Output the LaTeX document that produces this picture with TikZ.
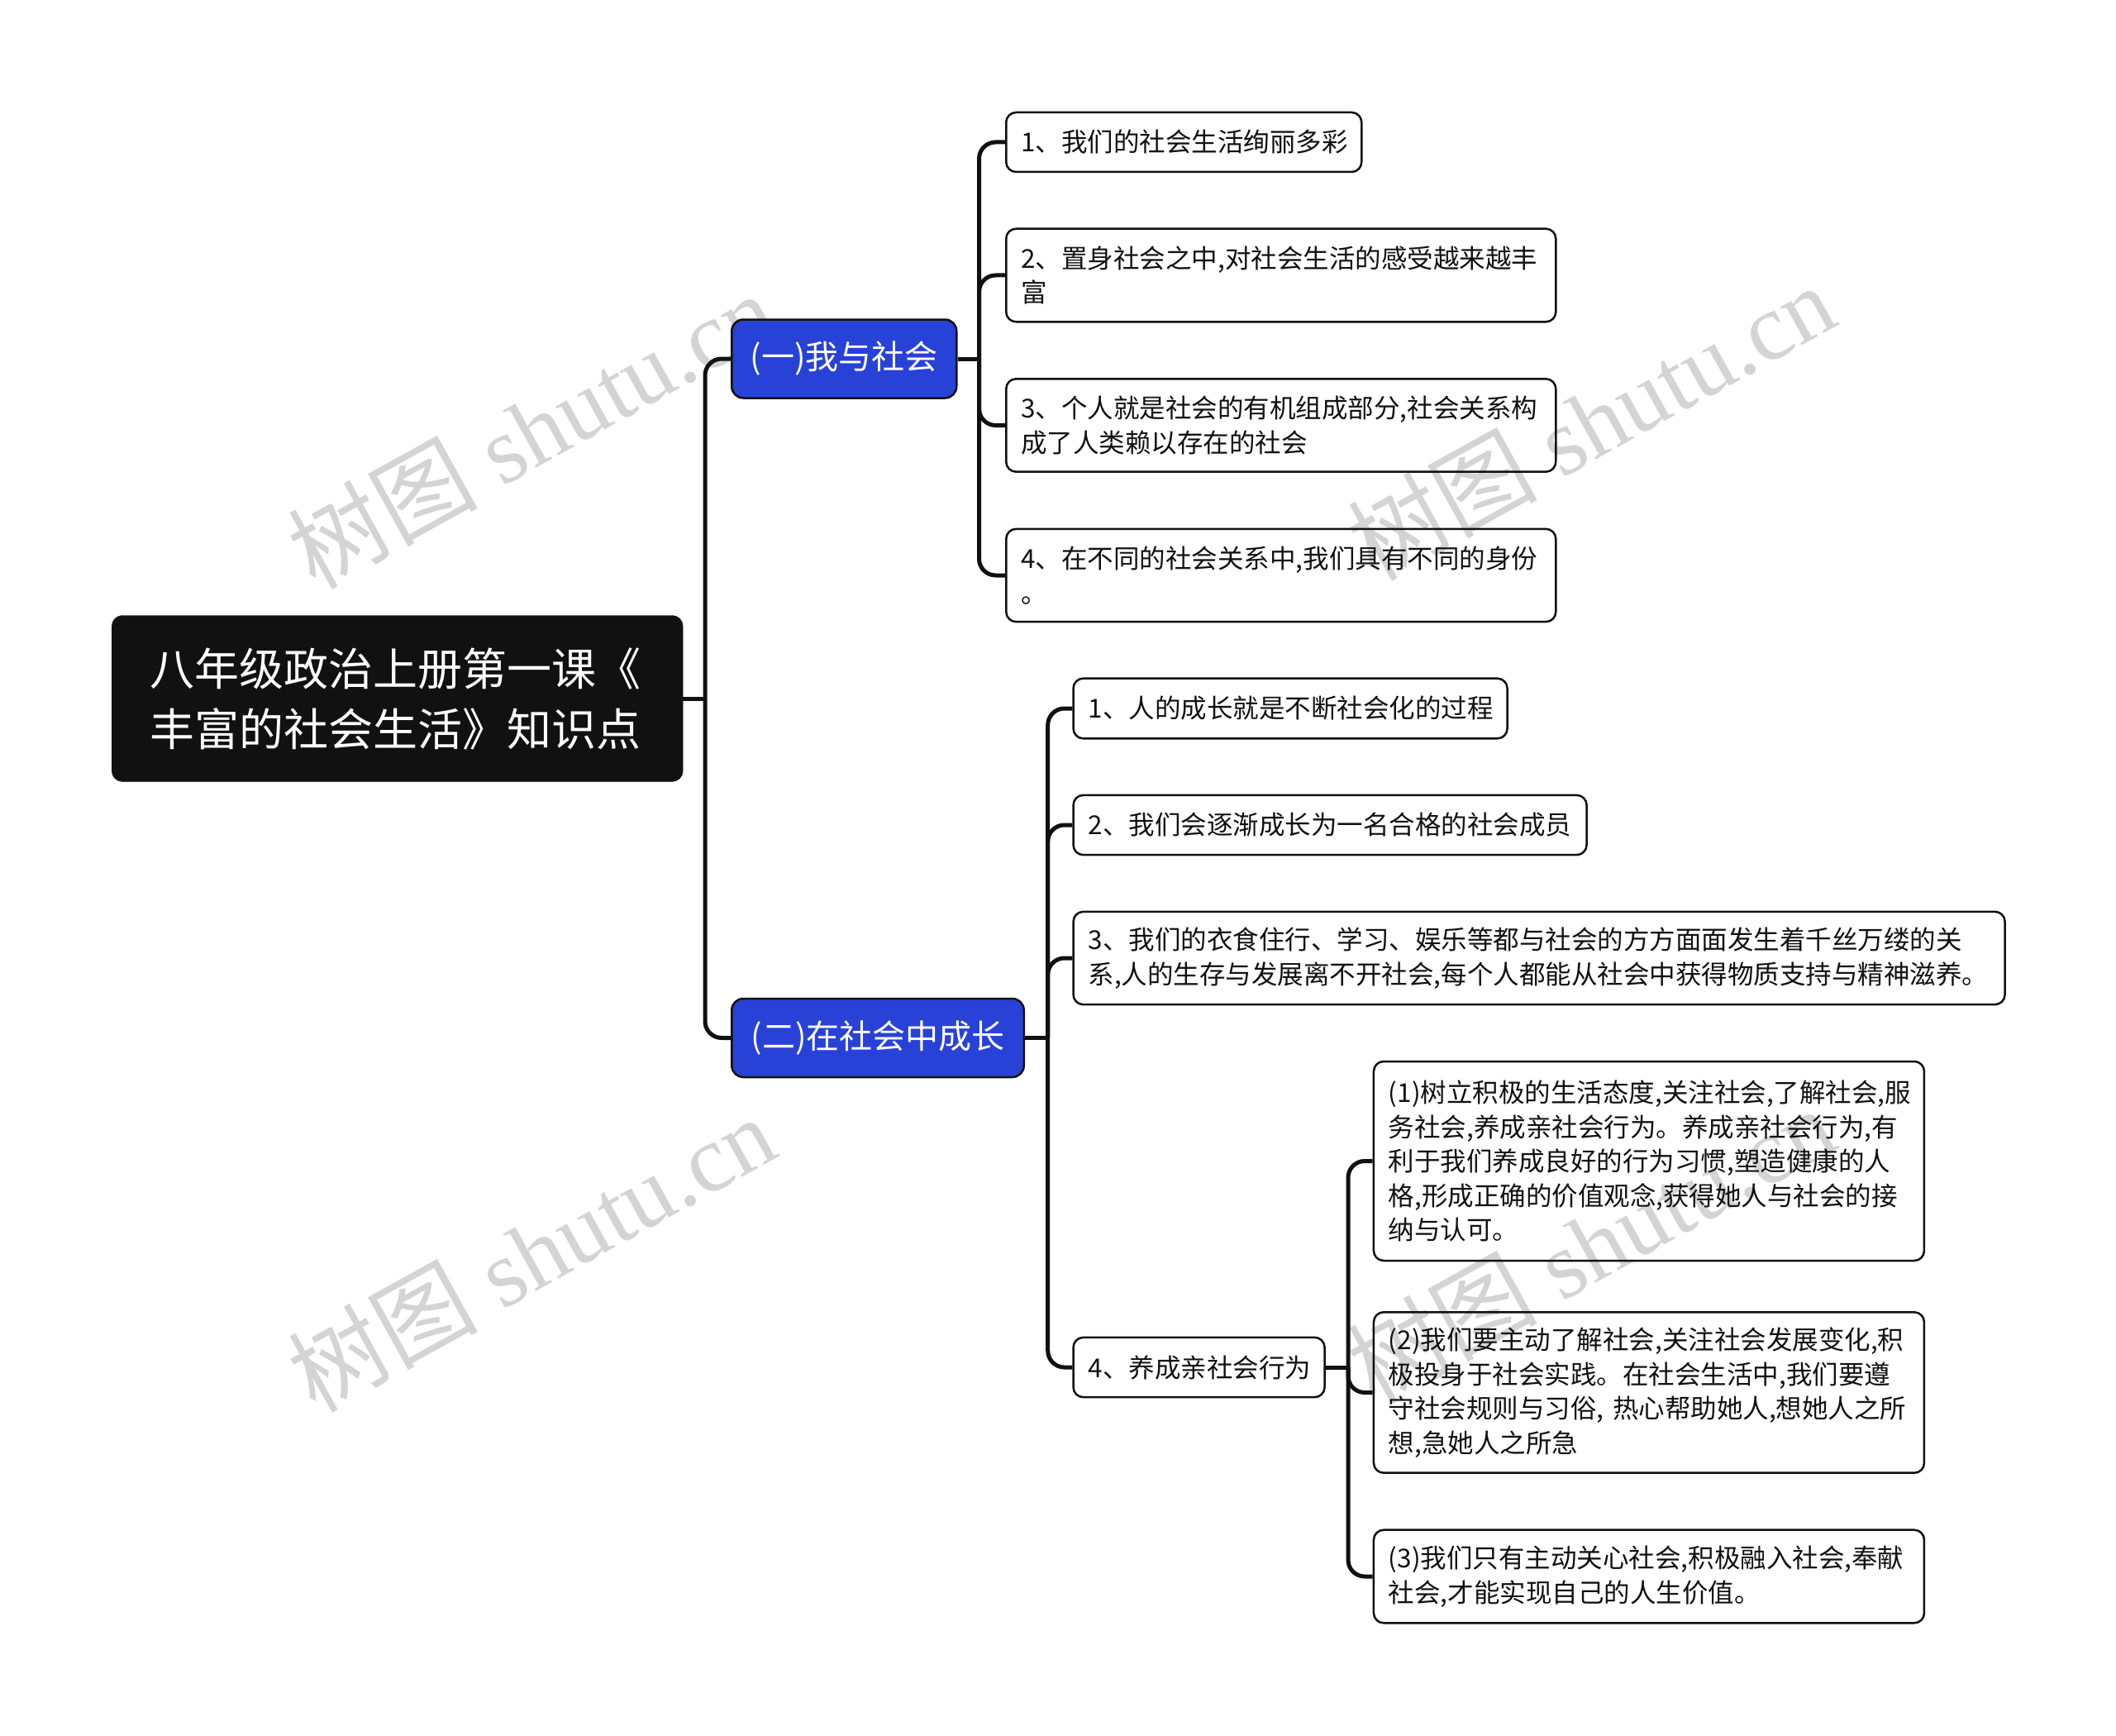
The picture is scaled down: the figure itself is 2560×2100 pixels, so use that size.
\documentclass[tikz,border=0pt]{standalone}
\usepackage{fontspec}
\newfontfamily\cjk{Noto Sans CJK SC}
\newfontfamily\wmserif{Liberation Serif}
\definecolor{bluenode}{RGB}{40,66,216}
\definecolor{ink}{RGB}{17,17,17}
\definecolor{wmgray}{RGB}{212,212,212}
\tikzset{
  conn/.style={draw=ink, line width=5pt, rounded corners=20pt},
  rootbox/.style={fill=ink, draw=ink, rounded corners=13pt, text=white, anchor=west,
    font=\cjk\fontsize{54}{73}\selectfont, align=left, inner xsep=46pt, inner ysep=0pt,
    text width=599pt, minimum height=201pt},
  topic/.style={fill=bluenode, draw=ink, line width=2.5pt, rounded corners=14pt, text=white,
    anchor=west, font=\cjk\fontsize{40}{48}\selectfont, inner sep=0pt, minimum height=95pt},
  itembox/.style={draw=ink, line width=2.5pt, rounded corners=12pt, text=ink, anchor=west,
    font=\cjk\fontsize{31.5}{41.5}\selectfont, align=left, inner xsep=18pt, inner ysep=0pt},
  wm/.style={text=wmgray, rotate=29, inner sep=0pt, font=\wmserif\fontsize{115}{120}\selectfont}
}
\begin{document}
\begin{tikzpicture}[x=1pt, y=-1pt]
\useasboundingbox (0,0) rectangle (2560,2100);
\fill[white] (0,0) rectangle (2560,2100);

% watermarks
\node[wm] (wm1) at (642,520)  {{\cjk 树图} shutu.cn};
\node[wm] (wm2) at (1924,510) {{\cjk 树图} shutu.cn};
\node[wm] (wm3) at (642,1516) {{\cjk 树图} shutu.cn};
\node[wm] (wm4) at (1924,1506) {{\cjk 树图} shutu.cn};

% root
\node[rootbox] (root) at (135,845) {八年级政治上册第一课《\\丰富的社会生活》知识点};

% topics
\node[topic, minimum width=272pt] (n1) at (884,434) {(一)我与社会};
\node[topic, minimum width=353.5pt] (n2) at (884,1255.5) {(二)在社会中成长};

% group 1
\node[itembox, text width=394pt, minimum height=72pt] (b11) at (1216,172) {1、我们的社会生活绚丽多彩};
\node[itembox, text width=629pt, minimum height=112.6pt] (b12) at (1216,333) {2、置身社会之中,对社会生活的感受越来越丰\\富};
\node[itembox, text width=629pt, minimum height=112.4pt] (b13) at (1216,514.5) {3、个人就是社会的有机组成部分,社会关系构\\成了人类赖以存在的社会};
\node[itembox, text width=629pt, minimum height=112.3pt] (b14) at (1216,696) {4、在不同的社会关系中,我们具有不同的身份\\。};

% group 2
\node[itembox, text width=489pt, minimum height=72.6pt] (b21) at (1297.3,857) {1、人的成长就是不断社会化的过程};
\node[itembox, text width=585pt, minimum height=72.3pt] (b22) at (1297.3,998) {2、我们会逐渐成长为一名合格的社会成员};
\node[itembox, text width=1091pt, minimum height=112.3pt] (b23) at (1297.3,1159) {3、我们的衣食住行、学习、娱乐等都与社会的方方面面发生着千丝万缕的关\\系,人的生存与发展离不开社会,每个人都能从社会中获得物质支持与精神滋养。};
\node[itembox, text width=268pt, minimum height=72.3pt] (b24) at (1297.3,1654) {4、养成亲社会行为};

% sub items
\node[itembox, text width=630pt, minimum height=241pt] (s1) at (1660.7,1404.5) {(1)树立积极的生活态度,关注社会,了解社会,服\\务社会,养成亲社会行为。养成亲社会行为,有\\利于我们养成良好的行为习惯,塑造健康的人\\格,形成正确的价值观念,获得她人与社会的接\\纳与认可。};
\node[itembox, text width=630pt, minimum height=194.4pt] (s2) at (1660.7,1684.5) {(2)我们要主动了解社会,关注社会发展变化,积\\极投身于社会实践。在社会生活中,我们要遵\\守社会规则与习俗, 热心帮助她人,想她人之所\\想,急她人之所急};
\node[itembox, text width=630pt, minimum height=112.6pt] (s3) at (1660.7,1907) {(3)我们只有主动关心社会,积极融入社会,奉献\\社会,才能实现自己的人生价值。};

% trunk points
\coordinate (t0) at (853,845);
\coordinate (t1) at (1184.5,434);
\coordinate (t2) at (1267.7,1255.5);
\coordinate (t3) at (1631,1654);

% connectors
\draw[conn] (root.east) -- (t0);
\draw[conn] (t0) |- (n1.west);
\draw[conn] (t0) |- (n2.west);

\draw[conn] (n1.east) -- (t1);
\draw[conn] (t1) |- (b11.west);
\draw[conn] (t1) |- (b12.west);
\draw[conn] (t1) |- (b13.west);
\draw[conn] (t1) |- (b14.west);

\draw[conn] (n2.east) -- (t2);
\draw[conn] (t2) |- (b21.west);
\draw[conn] (t2) |- (b22.west);
\draw[conn] (t2) |- (b23.west);
\draw[conn] (t2) |- (b24.west);

\draw[conn] (b24.east) -- (t3);
\draw[conn] (t3) |- (s1.west);
\draw[conn] (t3) |- (s2.west);
\draw[conn] (t3) |- (s3.west);
\end{tikzpicture}
\end{document}
